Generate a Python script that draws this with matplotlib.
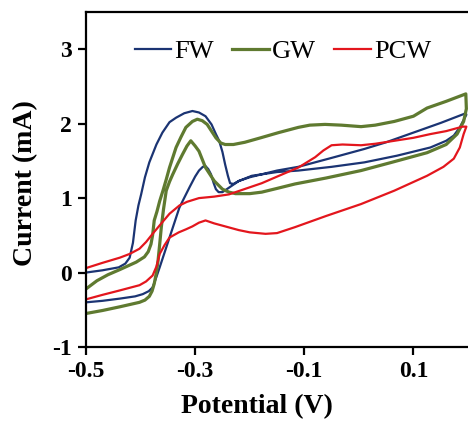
import matplotlib
matplotlib.use("Agg")
import matplotlib.pyplot as plt

plt.rcParams['font.family'] = ['Liberation Serif', 'DejaVu Serif']

# FW (blue): forward branch (lower) then return branch (upper), potentials in V, currents in mA
fw_v = [-0.500, -0.470, -0.438, -0.410, -0.396, -0.385, -0.378, -0.372, -0.365, -0.356, -0.347, -0.338,
        -0.329, -0.323, -0.310, -0.300, -0.293, -0.286, -0.281, -0.276, -0.271, -0.266, -0.262, -0.257,
        -0.250, -0.238, -0.220, -0.196, -0.150, -0.111, -0.050, 0.010, 0.070, 0.131, 0.160, 0.174,
        0.185, 0.192, 0.197,
        0.196, 0.150, 0.100, 0.050, 0.010, -0.050, -0.111, -0.150, -0.200, -0.220, -0.230, -0.236,
        -0.240, -0.245, -0.250, -0.256, -0.262, -0.270, -0.281, -0.293, -0.305, -0.320, -0.335, -0.347,
        -0.360, -0.371, -0.384, -0.392, -0.399, -0.404, -0.409, -0.414, -0.420, -0.428, -0.440, -0.470,
        -0.500]
fw_i = [-0.40, -0.38, -0.35, -0.32, -0.29, -0.25, -0.20, -0.08, 0.07, 0.27, 0.47, 0.67,
        0.87, 0.96, 1.15, 1.29, 1.37, 1.42, 1.43, 1.39, 1.32, 1.20, 1.12, 1.08,
        1.08, 1.14, 1.23, 1.30, 1.35, 1.37, 1.42, 1.48, 1.57, 1.68, 1.77, 1.84,
        1.95, 2.05, 2.12,
        2.14, 2.01, 1.88, 1.75, 1.66, 1.54, 1.42, 1.37, 1.28, 1.23, 1.19, 1.20,
        1.30, 1.45, 1.62, 1.77, 1.86, 1.99, 2.10, 2.15, 2.17, 2.14, 2.08, 2.02,
        1.88, 1.72, 1.48, 1.28, 1.05, 0.90, 0.70, 0.40, 0.20, 0.12, 0.07, 0.03,
        0.00]

# GW (green)
gw_v = [-0.500, -0.470, -0.438, -0.402, -0.392, -0.384, -0.379, -0.375, -0.371, -0.368, -0.365, -0.362,
        -0.358, -0.353, -0.347, -0.341, -0.332, -0.323, -0.315, -0.308, -0.300, -0.293, -0.287, -0.281,
        -0.273, -0.265, -0.250, -0.238, -0.226, -0.200, -0.178, -0.150, -0.117, -0.060, 0.004, 0.060,
        0.125, 0.160, 0.180, 0.192, 0.197,
        0.196, 0.160, 0.125, 0.100, 0.065, 0.030, 0.004, -0.032, -0.062, -0.090, -0.111, -0.147,
        -0.180, -0.209, -0.230, -0.245, -0.253, -0.262, -0.270, -0.278, -0.287, -0.296, -0.305, -0.317,
        -0.326, -0.335, -0.347, -0.353, -0.359, -0.365, -0.370, -0.375, -0.378, -0.381, -0.386, -0.393,
        -0.408, -0.438, -0.460, -0.480, -0.500]
gw_i = [-0.55, -0.51, -0.46, -0.40, -0.37, -0.32, -0.25, -0.15, 0.00, 0.16, 0.38, 0.61,
        0.85, 1.10, 1.22, 1.32, 1.46, 1.59, 1.70, 1.77, 1.70, 1.63, 1.52, 1.41,
        1.32, 1.23, 1.12, 1.08, 1.06, 1.06, 1.08, 1.13, 1.19, 1.27, 1.37, 1.48,
        1.61, 1.72, 1.86, 2.03, 2.20,
        2.40, 2.30, 2.21, 2.10, 2.03, 1.98, 1.96, 1.98, 1.99, 1.98, 1.95, 1.88,
        1.81, 1.75, 1.72, 1.72, 1.74, 1.81, 1.90, 1.99, 2.04, 2.06, 2.03, 1.95,
        1.82, 1.68, 1.41, 1.25, 1.10, 0.96, 0.82, 0.70, 0.50, 0.38, 0.28, 0.21,
        0.14, 0.04, -0.03, -0.11, -0.22]

# PCW (red)
pcw_v = [-0.500, -0.470, -0.438, -0.402, -0.390, -0.378, -0.371, -0.365, -0.356, -0.347, -0.330, -0.317,
         -0.305, -0.293, -0.281, -0.265, -0.240, -0.220, -0.200, -0.171, -0.150, -0.117, -0.060, 0.004,
         0.065, 0.125, 0.155, 0.174, 0.185, 0.192, 0.197,
         0.190, 0.160, 0.131, 0.100, 0.065, 0.030, 0.004, -0.030, -0.050, -0.065, -0.080, -0.111,
         -0.140, -0.178, -0.210, -0.238, -0.265, -0.293, -0.315, -0.329, -0.347, -0.362, -0.378, -0.390,
         -0.402, -0.420, -0.438, -0.470, -0.500]
pcw_i = [-0.36, -0.30, -0.24, -0.17, -0.12, -0.04, 0.08, 0.25, 0.37, 0.47, 0.54, 0.58,
         0.62, 0.67, 0.70, 0.66, 0.61, 0.57, 0.54, 0.52, 0.53, 0.61, 0.76, 0.92,
         1.10, 1.30, 1.42, 1.53, 1.68, 1.86, 1.96,
         1.96, 1.90, 1.86, 1.81, 1.77, 1.73, 1.71, 1.72, 1.71, 1.64, 1.55, 1.41,
         1.32, 1.20, 1.12, 1.05, 1.02, 1.00, 0.95, 0.90, 0.79, 0.66, 0.52, 0.41,
         0.32, 0.25, 0.20, 0.13, 0.06]

series_names = ['FW', 'GW', 'PCW']
x_ticks = [-0.5, -0.3, -0.1, 0.1]
x_tick_labels = ['-0.5', '-0.3', '-0.1', '0.1']
y_ticks = [-1, 0, 1, 2, 3]
y_tick_labels = ['-1', '0', '1', '2', '3']

fig = plt.figure(figsize=(4.68, 4.21), dpi=100)
ax = fig.add_axes([0.1838, 0.1758, 0.8162, 0.7957])

ax.plot(fw_v, fw_i, color='#1b3473', lw=1.6, label=series_names[0])
ax.plot(gw_v, gw_i, color='#5f7a30', lw=2.3, label=series_names[1])
ax.plot(pcw_v, pcw_i, color='#e3161d', lw=1.6, label=series_names[2])

ax.set_xlim(-0.5, 0.2)
ax.set_ylim(-1, 3.5)
ax.set_xticks(x_ticks)
ax.set_xticklabels(x_tick_labels)
ax.set_yticks(y_ticks)
ax.set_yticklabels(y_tick_labels)

for lab in ax.get_xticklabels() + ax.get_yticklabels():
    lab.set_fontweight('bold')
    lab.set_fontsize(17)

ax.tick_params(direction='out', length=6, width=1.6, pad=4)
for s in ['left', 'bottom', 'top']:
    ax.spines[s].set_linewidth(1.6)
ax.spines['right'].set_visible(False)

ax.set_xlabel('Potential (V)', fontsize=20, fontweight='bold')
ax.set_ylabel('Current (mA)', fontsize=20, fontweight='bold')
ax.xaxis.set_label_coords(0.448, -0.14)
ax.yaxis.set_label_coords(-0.125, 0.49)

leg = ax.legend(ncol=3, loc='upper center', bbox_to_anchor=(0.515, 0.95), frameon=False,
                prop={'family': 'Liberation Serif', 'size': 19}, handlelength=1.4,
                handletextpad=0.1, columnspacing=0.7, borderaxespad=0)

fig.savefig('out.png', dpi=100)
